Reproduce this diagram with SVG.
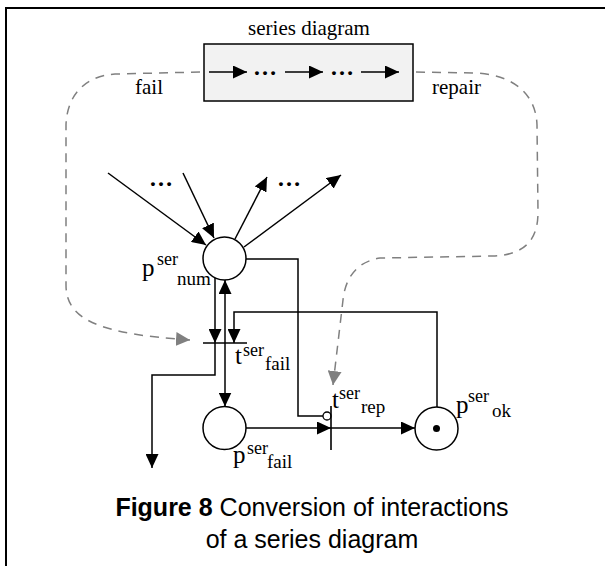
<svg xmlns="http://www.w3.org/2000/svg" width="605" height="566" viewBox="0 0 605 566">
<style>
.ln{fill:none;stroke:#000;stroke-width:1.5}
.dash{fill:none;stroke:#808080;stroke-width:1.5;stroke-dasharray:9 7}
.pl{fill:#fff;stroke:#000;stroke-width:1.5}
.tr{stroke:#000;stroke-width:1.6}
.s{font-family:'Liberation Serif','Times New Roman',serif;fill:#000}
.big{font-size:25px}
.sm{font-size:18px}
.sb{font-size:19px}
.dots{font-family:'Liberation Serif','Times New Roman',serif;font-size:24px;font-weight:bold;text-anchor:middle}
.cap{font-family:'Liberation Sans',Arial,sans-serif;font-size:25px;text-anchor:middle}
</style>
<defs>
<marker id="ah" viewBox="0 0 14 13" refX="14" refY="6.5" markerWidth="14" markerHeight="13" markerUnits="userSpaceOnUse" orient="auto">
<path d="M0,0 L14,6.5 L0,13 z" fill="#000"/>
</marker>
<marker id="ahg" viewBox="0 0 14 14" refX="14" refY="7" markerWidth="14" markerHeight="14" markerUnits="userSpaceOnUse" orient="auto">
<path d="M0,0 L14,7 L0,14 z" fill="#808080"/>
</marker>
</defs>
<rect x="6" y="8" width="640" height="620" fill="#fff" stroke="#000" stroke-width="2"/>

<g id="series">
<text class="s" x="309" y="35" font-size="21" text-anchor="middle">series diagram</text>
<rect x="204" y="44" width="209" height="57" fill="#f2f2f2" stroke="#000" stroke-width="1.5"/>
<line class="ln" x1="209" y1="72" x2="247" y2="72" marker-end="url(#ah)"/>
<text class="dots" x="265" y="75">…</text>
<line class="ln" x1="285" y1="72" x2="323" y2="72" marker-end="url(#ah)"/>
<text class="dots" x="342" y="75">…</text>
<line class="ln" x1="361" y1="72" x2="399" y2="72" marker-end="url(#ah)"/>
</g>

<g id="connectors">
<path class="dash" d="M200 72 L115 74 C85 76 67 95 66 125 L66 285 C66 320 100 334 190 340" marker-end="url(#ahg)"/>
<path class="dash" d="M416 72 L478 73 C515 76 536 95 537 125 L538 212 C538 240 525 254 495 256 L380 258 C355 262 345 280 343 300 L333 385" marker-end="url(#ahg)"/>
<line class="ln" x1="108" y1="173" x2="206" y2="245" marker-end="url(#ah)"/>
<line class="ln" x1="183" y1="173" x2="214" y2="238" marker-end="url(#ah)"/>
<text class="dots" x="161" y="186">…</text>
<line class="ln" x1="235" y1="239" x2="267" y2="177" marker-end="url(#ah)"/>
<line class="ln" x1="244" y1="247" x2="341" y2="175" marker-end="url(#ah)"/>
<text class="dots" x="289" y="186">…</text>
<line class="ln" x1="215" y1="278" x2="215" y2="343" marker-end="url(#ah)"/>
<path class="ln" d="M215 343 L215 375 L152 375 L152 468" marker-end="url(#ah)"/>
<line class="ln" x1="225" y1="343" x2="225" y2="280" marker-end="url(#ah)"/>
<line class="ln" x1="225" y1="343" x2="225" y2="406.5" marker-end="url(#ah)"/>
<path class="ln" d="M437 407 L437 312 L234 312 L234 343" marker-end="url(#ah)"/>
<path class="ln" d="M246 259 L298 259 L298 416 L323 416"/>
<circle cx="327" cy="416" r="4" fill="#fff" stroke="#000" stroke-width="1.3"/>
<line class="ln" x1="246" y1="428" x2="331" y2="428" marker-end="url(#ah)"/>
<line class="ln" x1="331" y1="428" x2="415" y2="428" marker-end="url(#ah)"/>
</g>

<g id="p_num">
<circle class="pl" cx="224.5" cy="258.5" r="21.5"/>
<text class="s big" x="142" y="276">p</text>
<text class="s sm" x="157" y="265">ser</text>
<text class="s sb" x="177" y="285">num</text>
</g>

<g id="t_fail">
<line class="tr" x1="203" y1="343" x2="247" y2="343"/>
<text class="s big" x="235" y="364">t</text>
<text class="s sm" x="243" y="356">ser</text>
<text class="s sb" x="265" y="370">fail</text>
</g>

<g id="p_fail">
<circle class="pl" cx="224.5" cy="428" r="21.5"/>
<text class="s big" x="233" y="463">p</text>
<text class="s sm" x="247" y="454">ser</text>
<text class="s sb" x="267" y="468">fail</text>
</g>

<g id="t_rep">
<line class="tr" x1="331" y1="406" x2="331" y2="450"/>
<text class="s big" x="332" y="408">t</text>
<text class="s sm" x="339" y="399">ser</text>
<text class="s sb" x="361" y="413">rep</text>
</g>

<g id="p_ok">
<circle class="pl" cx="436.5" cy="428.5" r="21.5"/>
<circle cx="436.5" cy="428.5" r="3.5" fill="#000"/>
<text class="s big" x="456" y="413">p</text>
<text class="s sm" x="468" y="402">ser</text>
<text class="s sb" x="492" y="417">ok</text>
</g>

<g id="labels">
<text class="s" x="135" y="94" font-size="21">fail</text>
<text class="s" x="432" y="94" font-size="21">repair</text>
</g>

<g id="caption">
<text class="cap" x="312" y="516"><tspan font-weight="bold">Figure 8</tspan> Conversion of interactions</text>
<text class="cap" x="312" y="548">of a series diagram</text>
</g>
</svg>
